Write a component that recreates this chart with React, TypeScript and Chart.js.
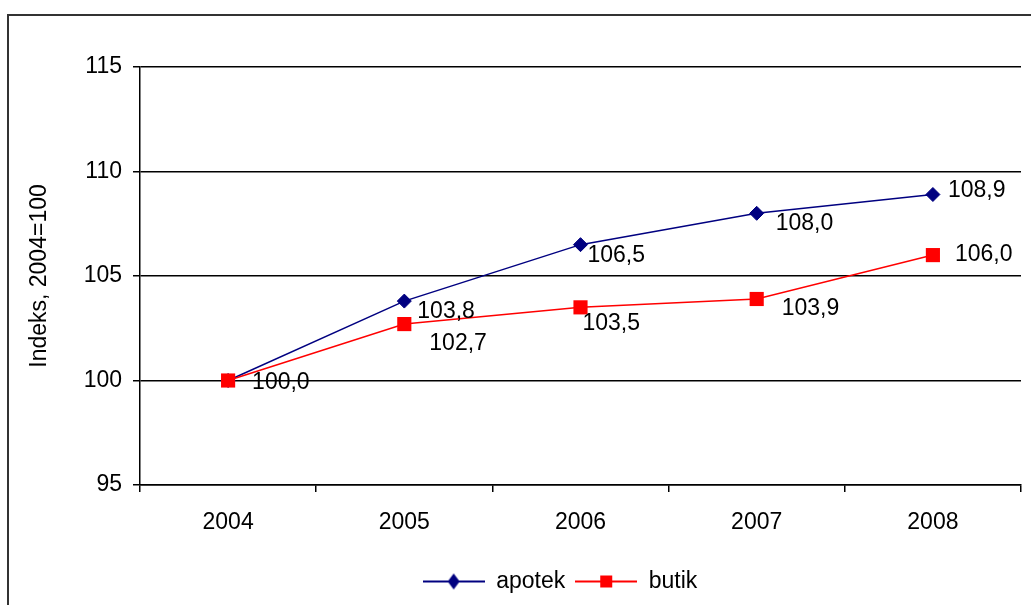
import React, { useEffect, useRef } from "react";
import { Chart, registerables } from "chart.js";

Chart.register(...registerables);

// ---- data ----
const categories = ["2004", "2005", "2006", "2007", "2008"];
const apotek = [100.0, 103.8, 106.5, 108.0, 108.9];
const butik = [100.0, 102.7, 103.5, 103.9, 106.0];
const yTicks = [95, 100, 105, 110, 115];
const seriesNames = ["apotek", "butik"];
const yTitle = "Indeks, 2004=100";

// ---- styles ----
const FONT = "'Liberation Sans', Arial, sans-serif";
const FS = 23;
const colors = ["#000080", "#FF0000"];
// data-label offsets (px) from each point: [dx, dy], null = hidden
const labelOffsets: ([number, number] | null)[][] = [
  [[24, 2], [13, 11], [7, 11], [19, 10], [15, -4]],
  [null, [25, 20], [2, 16], [25, 10], [22, 0]],
];

function makeLegendImage(i: number): HTMLCanvasElement {
  const c = document.createElement("canvas");
  c.width = 62;
  c.height = 18;
  const ctx = c.getContext("2d")!;
  ctx.strokeStyle = colors[i];
  ctx.lineWidth = 2;
  ctx.beginPath();
  ctx.moveTo(0, 9);
  ctx.lineTo(62, 9);
  ctx.stroke();
  ctx.fillStyle = colors[i];
  ctx.beginPath();
  if (i === 0) {
    ctx.moveTo(31, 1);
    ctx.lineTo(37, 9);
    ctx.lineTo(31, 17);
    ctx.lineTo(25, 9);
    ctx.closePath();
  } else {
    ctx.rect(25, 3, 12, 12);
  }
  ctx.fill();
  return c;
}

export default function App() {
  const ref = useRef<HTMLCanvasElement | null>(null);

  useEffect(() => {
    if (!ref.current) return;
    const legendImgs = [makeLegendImage(0), makeLegendImage(1)];
    const font = { family: FONT, size: FS };

    const framePlugin = {
      id: "frame",
      beforeDraw(chart: any) {
        const ctx = chart.ctx;
        ctx.save();
        ctx.fillStyle = "#fff";
        ctx.fillRect(0, 0, chart.width, chart.height);
        ctx.strokeStyle = "#333";
        ctx.lineWidth = 2;
        ctx.beginPath();
        ctx.moveTo(8, 605);
        ctx.lineTo(8, 15);
        ctx.lineTo(1031, 15);
        ctx.stroke();
        ctx.restore();
      },
      afterLayout(chart: any) {
        const lg = chart.legend;
        if (lg) {
          lg.left += 49;
          lg.right += 49;
        }
      },
    };

    const labelPlugin = {
      id: "dataLabels",
      afterDatasetsDraw(chart: any) {
        const ctx = chart.ctx;
        ctx.save();
        ctx.font = `${FS}px ${FONT}`;
        ctx.fillStyle = "#000";
        ctx.textAlign = "left";
        ctx.textBaseline = "middle";
        chart.data.datasets.forEach((ds: any, di: number) => {
          const meta = chart.getDatasetMeta(di);
          meta.data.forEach((pt: any, i: number) => {
            const off = labelOffsets[di][i];
            if (!off) return;
            const v = ds.data[i] as number;
            ctx.fillText(v.toFixed(1).replace(".", ","), pt.x + off[0], pt.y + off[1]);
          });
        });
        ctx.restore();
      },
    };

    const chart = new Chart(ref.current, {
      type: "line",
      data: {
        labels: categories,
        datasets: [
          {
            label: seriesNames[0],
            data: apotek,
            borderColor: colors[0],
            backgroundColor: colors[0],
            borderWidth: 1.5,
            pointStyle: "rectRot",
            pointRadius: 7,
            pointBorderWidth: 1,
            pointBackgroundColor: colors[0],
            pointBorderColor: colors[0],
            tension: 0,
            order: 1,
          },
          {
            label: seriesNames[1],
            data: butik,
            borderColor: colors[1],
            backgroundColor: colors[1],
            borderWidth: 1.5,
            pointStyle: "rect",
            pointRadius: 10,
            pointBorderWidth: 0,
            pointBackgroundColor: colors[1],
            pointBorderColor: colors[1],
            tension: 0,
            order: 0,
          },
        ],
      },
      options: {
        responsive: false,
        animation: false,
        events: [],
        layout: { padding: { left: 0, top: 67, right: 9, bottom: 2 } },
        scales: {
          x: {
            offset: true,
            grid: {
              offset: true,
              drawOnChartArea: false,
              drawTicks: true,
              tickLength: 7,
              color: "#000",
              lineWidth: 1.5,
            },
            border: { color: "#000", width: 1.5 },
            ticks: { color: "#000", font, padding: 17, maxRotation: 0, autoSkip: false },
            afterFit: (s: any) => {
              s.height = 75;
            },
          },
          y: {
            min: 95,
            max: 115,
            afterBuildTicks: (s: any) => {
              s.ticks = yTicks.map((v) => ({ value: v }));
            },
            ticks: {
              color: "#000",
              font,
              padding: 11,
              callback: (v: any) => String(v),
            },
            grid: { color: "#000", lineWidth: 1.5, tickLength: 7, drawTicks: true },
            border: { color: "#000", width: 1.5 },
            title: {
              display: true,
              text: yTitle,
              color: "#000",
              font,
              padding: { top: 26, bottom: 0 },
            },
            afterFit: (s: any) => {
              s.width = 140;
            },
          },
        },
        plugins: {
          tooltip: { enabled: false },
          legend: {
            position: "bottom",
            labels: {
              usePointStyle: true,
              pointStyleWidth: 62,
              font,
              color: "#000",
              padding: 10,
              sort: (a: any, b: any) => a.datasetIndex - b.datasetIndex,
              generateLabels: (ch: any) => {
                const items = (Chart.defaults.plugins.legend.labels as any).generateLabels(ch);
                return items.map((it: any) => ({ ...it, pointStyle: legendImgs[it.datasetIndex] }));
              },
            },
          },
        },
      },
      plugins: [framePlugin, labelPlugin],
    } as any);

    return () => chart.destroy();
  }, []);

  return (
    <div style={{ position: "absolute", left: 0, top: 0, width: 1031, height: 605 }}>
      <canvas ref={ref} width={1031} height={605} style={{ display: "block" }} />
    </div>
  );
}
